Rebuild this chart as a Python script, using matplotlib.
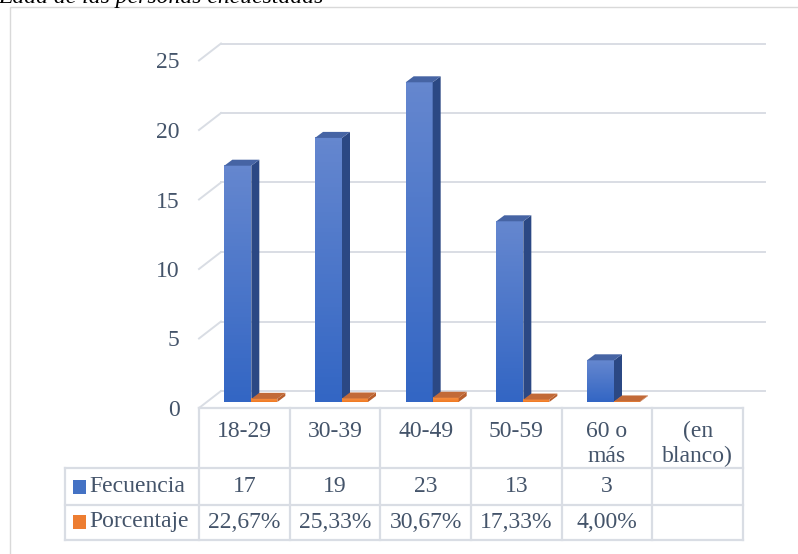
import numpy as np
import matplotlib.pyplot as plt
from matplotlib import transforms
from matplotlib.colors import LinearSegmentedColormap
from matplotlib.patches import Polygon, Rectangle
from matplotlib.lines import Line2D

categorias = ["18-29", "30-39", "40-49", "50-59", "60 o\nmás", "(en\nblanco)"]
frecuencia = [17, 19, 23, 13, 3, None]
porcentaje = [22.67, 25.33, 30.67, 17.33, 4.00, None]
series = ["Fecuencia", "Porcentaje"]
titulo = "Edad de las personas encuestadas"

W, H = 798, 554
TXT = "#44546a"
GRID = "#d9dde4"
FS = 17
plt.rcParams["font.family"] = ["Liberation Serif", "DejaVu Serif"]


def fx(px):
    return px / W


def fy(py):
    return 1 - py / H


fig = plt.figure(figsize=(W / 100, H / 100), dpi=100)
ax = fig.add_axes([fx(199), fy(408), (743 - 199) / W, 347.5 / H])
ax.set_xlim(-0.5, len(categorias) - 0.5)
ax.set_ylim(0, 25)
ux = 544 / len(categorias)
uy = 347.5 / 25
for s in ax.spines.values():
    s.set_visible(False)
ax.set_xticks([])
ax.set_yticks(range(0, 26, 5))
ax.tick_params(axis="y", length=0, pad=14, labelsize=FS, labelcolor=TXT)
ax.patch.set_alpha(0)

# back wall and left-side gridlines
bx, by = 22 / ux, 17 / uy
for v in range(0, 26, 5):
    ax.plot([-0.5 + bx, len(categorias) - 0.5 + bx], [v + by, v + by],
            color=GRID, lw=1.4, clip_on=False, zorder=1)
    ax.plot([-0.5, -0.5 + bx], [v, v + by], color=GRID, lw=1.4,
            clip_on=False, zorder=1)

# 3d columns
base = 6 / uy
dx, dy = 8 / ux, 6 / uy
blue_front = LinearSegmentedColormap.from_list("bf", ["#3366c4", "#6587cf"])
orange_front = LinearSegmentedColormap.from_list("of", ["#f07a22", "#f59048"])
grad = np.linspace(0, 1, 64).reshape(-1, 1)


def columna(xl, w, h, cmap, side, top, z):
    xr = xl + w
    ax.imshow(grad, extent=(xl, xr, base, base + h), cmap=cmap, origin="lower",
              aspect="auto", zorder=z, clip_on=False)
    ax.add_patch(Polygon([(xr, base), (xr + dx, base + dy), (xr + dx, base + h + dy),
                          (xr, base + h)], closed=True, fc=side, ec="none",
                         zorder=z, clip_on=False))
    ax.add_patch(Polygon([(xl, base + h), (xr, base + h), (xr + dx, base + h + dy),
                          (xl + dx, base + h + dy)], closed=True, fc=top, ec="none",
                         zorder=z, clip_on=False))


for i, (f, p) in enumerate(zip(frecuencia, porcentaje)):
    if f is None:
        continue
    columna(i - 20 / ux, 27 / ux, f, blue_front, "#2b4884", "#4664a4", 3 + i)
    columna(i + 7 / ux, 26 / ux, p / 100, orange_front, "#b85e2c", "#c26a38", 3.5 + i)

ax.set_xlim(-0.5, len(categorias) - 0.5)
ax.set_ylim(0, 25)

# data table under the plot
tr = transforms.blended_transform_factory(ax.transData, fig.transFigure)
x0 = -0.5
x1 = len(categorias) - 0.5
xleg = x0 - (199 - 65) / ux
lk = dict(color=GRID, lw=1.6, transform=tr, clip_on=False)
fig.add_artist(Line2D([x0, x1], [fy(408), fy(408)], **lk))
for yy in (468, 505, 540):
    fig.add_artist(Line2D([xleg, x1], [fy(yy), fy(yy)], **lk))
fig.add_artist(Line2D([xleg, xleg], [fy(468), fy(540)], **lk))
for k in range(len(categorias) + 1):
    fig.add_artist(Line2D([x0 + k, x0 + k], [fy(408), fy(540)], **lk))

for i, c in enumerate(categorias):
    fig.text(i, fy(421), c, transform=tr, ha="center", va="top", fontsize=FS,
             color=TXT, linespacing=1.25)
    if frecuencia[i] is not None:
        fig.text(i, fy(487), str(frecuencia[i]), transform=tr, ha="center",
                 va="center", fontsize=FS, color=TXT)
    if porcentaje[i] is not None:
        lab = f"{porcentaje[i]:.2f}%".replace(".", ",")
        fig.text(i, fy(522), lab, transform=tr, ha="center", va="center",
                 fontsize=FS, color=TXT)

# legend keys inside the table
for yc, nombre, col in ((487, series[0], "#4472c4"), (522, series[1], "#ed7d31")):
    fig.add_artist(Rectangle((fx(73), fy(yc + 7)), 13 / W, 14 / H, fc=col, ec="none",
                             transform=fig.transFigure))
    fig.text(fx(89), fy(yc), nombre, ha="left", va="center", fontsize=FS, color=TXT)

# chart border and clipped caption above it
fig.add_artist(Rectangle((fx(10), fy(560)), (805 - 10) / W, 553 / H, fill=False,
                         ec="#d9d9d9", lw=1, transform=fig.transFigure))
fig.text(fx(-2), fy(3), titulo, ha="left", va="baseline", fontsize=FS,
         style="italic", color="black")

fig.savefig("out.png", dpi=100)
